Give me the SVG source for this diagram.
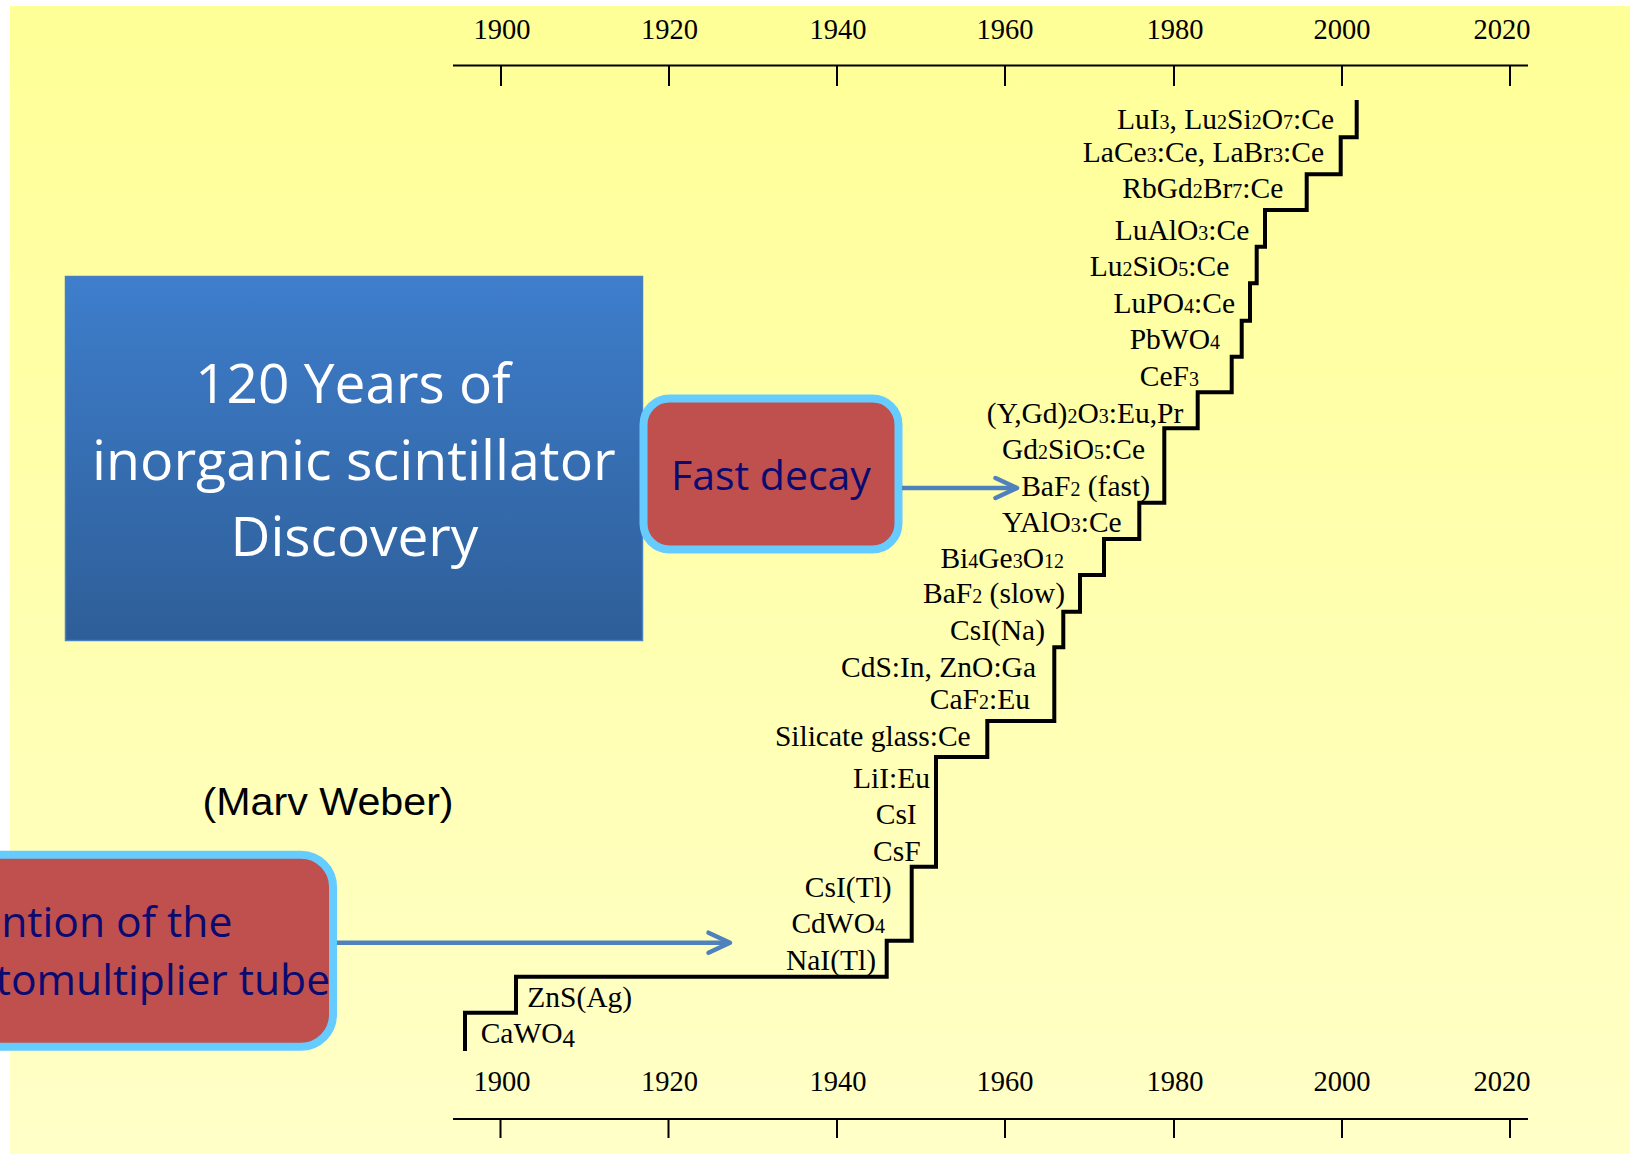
<svg xmlns="http://www.w3.org/2000/svg" width="1630" height="1154" viewBox="0 0 1630 1154">
  <defs>
    <linearGradient id="bg" x1="0" y1="0" x2="0" y2="1">
      <stop offset="0" stop-color="#FFFF97"/>
      <stop offset="1" stop-color="#FFFFC8"/>
    </linearGradient>
    <linearGradient id="blue" x1="0" y1="0" x2="0" y2="1">
      <stop offset="0" stop-color="#3E7ECC"/>
      <stop offset="1" stop-color="#2E5E98"/>
    </linearGradient>
    <marker id="chev" markerUnits="userSpaceOnUse" viewBox="-26 -14 30 28" refX="0" refY="0" markerWidth="30" markerHeight="28" orient="auto" overflow="visible">
      <path d="M-21.5,-10 L0,0 L-21.5,10" fill="none" stroke="#4F81BD" stroke-width="4.5" stroke-linecap="round" stroke-linejoin="round"/>
    </marker>
    <style>
      .yr { font-family: "Liberation Serif", "Times New Roman", serif; font-size: 28.5px; fill: #000; text-anchor: middle; }
      .lb { font-family: "Liberation Serif", "Times New Roman", serif; font-size: 29.5px; fill: #000; text-anchor: end; }
      .ls { text-anchor: start; }
      .sub { font-size: 20px; }
      .axis { stroke: #000; stroke-width: 2; fill: none; }
      .stair { stroke: #000; stroke-width: 4; fill: none; stroke-linejoin: miter; }
      .conn { stroke: #4F81BD; stroke-width: 4.5; fill: none; }
      .redbox { fill: #C0504D; stroke: #66CCFF; stroke-width: 8; }
      .navy { font-family: "Open Sans", "Noto Sans", sans-serif; font-size: 41px; fill: #0A0A70; }
      .navy.big { font-size: 42.6px; }
    </style>
  </defs>

  <rect x="10" y="6" width="1620" height="1148" fill="url(#bg)"/>

  <g id="top-axis">
    <path class="axis" d="M453,65.5 H1528 M501,65.5 V86 M669,65.5 V86 M837,65.5 V86 M1005,65.5 V86 M1174,65.5 V86 M1342,65.5 V86 M1510,65.5 V86"/>
    <text class="yr" x="502" y="39">1900</text>
    <text class="yr" x="669.5" y="39">1920</text>
    <text class="yr" x="838" y="39">1940</text>
    <text class="yr" x="1005" y="39">1960</text>
    <text class="yr" x="1175" y="39">1980</text>
    <text class="yr" x="1342" y="39">2000</text>
    <text class="yr" x="1502" y="39">2020</text>
  </g>

  <g id="bottom-axis">
    <path class="axis" d="M453,1119 H1528 M500.5,1119 V1138 M668.5,1119 V1138 M837,1119 V1138 M1005,1119 V1138 M1174,1119 V1138 M1342,1119 V1138 M1510,1119 V1138"/>
    <text class="yr" x="502" y="1091">1900</text>
    <text class="yr" x="669.5" y="1091">1920</text>
    <text class="yr" x="838" y="1091">1940</text>
    <text class="yr" x="1005" y="1091">1960</text>
    <text class="yr" x="1175" y="1091">1980</text>
    <text class="yr" x="1342" y="1091">2000</text>
    <text class="yr" x="1502" y="1091">2020</text>
  </g>

  <g id="staircase">
    <path class="stair" d="M465,1051 V1012.7 H516 V976.7 H886.7 V940.7 H911.7 V866.7 H936 V757 H987.3 V721 H1054.3 V647.3 H1063.3 V611.7 H1080 V575 H1104 V539 H1139.3 V502.7 H1164.3 V428.3 H1197.7 V392.3 H1231.7 V356.7 H1241.7 V320.7 H1250 V283.3 H1256.7 V246.7 H1265 V210 H1306.7 V174.3 H1340.7 V137.3 H1356.7 V100"/>
  </g>

  <g id="labels">
    <text class="lb" x="1334" y="129.3">LuI<tspan class="sub">3</tspan>, Lu<tspan class="sub">2</tspan>Si<tspan class="sub">2</tspan>O<tspan class="sub">7</tspan>:Ce</text>
    <text class="lb" x="1324" y="161.7">LaCe<tspan class="sub">3</tspan>:Ce, LaBr<tspan class="sub">3</tspan>:Ce</text>
    <text class="lb" x="1283.3" y="198.3">RbGd<tspan class="sub">2</tspan>Br<tspan class="sub">7</tspan>:Ce</text>
    <text class="lb" x="1249.3" y="240">LuAlO<tspan class="sub">3</tspan>:Ce</text>
    <text class="lb" x="1229.3" y="276">Lu<tspan class="sub">2</tspan>SiO<tspan class="sub">5</tspan>:Ce</text>
    <text class="lb" x="1235" y="313.3">LuPO<tspan class="sub">4</tspan>:Ce</text>
    <text class="lb" x="1220" y="349.3">PbWO<tspan class="sub">4</tspan></text>
    <text class="lb" x="1199" y="386">CeF<tspan class="sub">3</tspan></text>
    <text class="lb" x="1183.3" y="422.7">(Y,Gd)<tspan class="sub">2</tspan>O<tspan class="sub">3</tspan>:Eu,Pr</text>
    <text class="lb" x="1145" y="459">Gd<tspan class="sub">2</tspan>SiO<tspan class="sub">5</tspan>:Ce</text>
    <text class="lb" x="1150" y="496">BaF<tspan class="sub">2</tspan> (fast)</text>
    <text class="lb" x="1121.7" y="531.7">YAlO<tspan class="sub">3</tspan>:Ce</text>
    <text class="lb" x="1064" y="568.3">Bi<tspan class="sub">4</tspan>Ge<tspan class="sub">3</tspan>O<tspan class="sub">12</tspan></text>
    <text class="lb" x="1065" y="603.3">BaF<tspan class="sub">2</tspan> (slow)</text>
    <text class="lb" x="1045" y="640">CsI(Na)</text>
    <text class="lb" x="1036" y="676.7">CdS:In, ZnO:Ga</text>
    <text class="lb" x="1030" y="709.3">CaF<tspan class="sub">2</tspan>:Eu</text>
    <text class="lb" x="970.7" y="746">Silicate glass:Ce</text>
    <text class="lb" x="930" y="787.7">LiI:Eu</text>
    <text class="lb" x="916.7" y="824">CsI</text>
    <text class="lb" x="920.7" y="860.7">CsF</text>
    <text class="lb" x="891.7" y="896.7">CsI(Tl)</text>
    <text class="lb" x="885" y="933.3">CdWO<tspan class="sub">4</tspan></text>
    <text class="lb" x="876" y="970">NaI(Tl)</text>
    <text class="lb ls" x="527.3" y="1007.3">ZnS(Ag)</text>
    <text class="lb ls" x="480.7" y="1042.7">CaWO<tspan font-size="25px" dy="4">4</tspan></text>
  </g>

  <g id="title-box">
    <rect x="65.5" y="276.5" width="577" height="364" fill="url(#blue)" stroke="#4A7FC0" stroke-width="1.5"/>
    <text font-family="'Open Sans', 'Noto Sans', sans-serif" font-size="55px" fill="#FFFFFF" text-anchor="middle">
      <tspan x="360" y="403.3">120 Years of</tspan>
      <tspan x="361" y="480" font-size="55.5px">inorganic scintillator</tspan>
      <tspan x="354.5" y="556">Discovery</tspan>
    </text>
  </g>

  <g id="fast-decay">
    <rect class="redbox" x="643.5" y="398.5" width="255" height="151" rx="26" ry="26"/>
    <text class="navy" x="771" y="490" text-anchor="middle">Fast decay</text>
  </g>

  <g id="pmt-box">
    <rect class="redbox" x="-300" y="854.7" width="633" height="192" rx="32" ry="32"/>
    <text class="navy big">
      <tspan x="-82" y="936.7">Invention of the</tspan>
      <tspan x="-82" y="995">photomultiplier tube</tspan>
    </text>
  </g>

  <g id="marv-weber">
    <text font-family="'Liberation Sans', Arial, sans-serif" font-size="38px" fill="#000" x="202.6" y="815" textLength="251" lengthAdjust="spacingAndGlyphs">(Marv Weber)</text>
  </g>

  <g id="connectors">
    <line class="conn" x1="902" y1="488" x2="1017" y2="488" marker-end="url(#chev)"/>
    <line class="conn" x1="337" y1="942.7" x2="730" y2="942.7" marker-end="url(#chev)"/>
  </g>
</svg>
